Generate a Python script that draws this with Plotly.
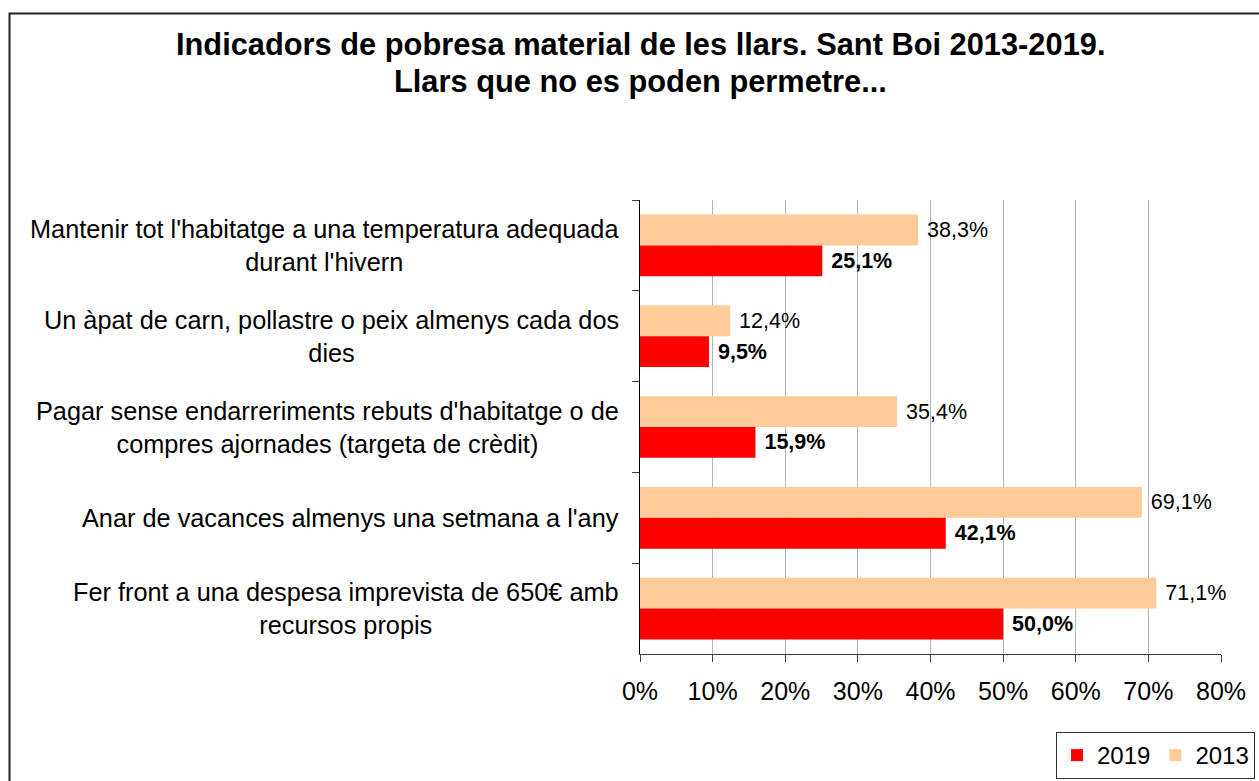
import plotly.graph_objects as go

categories = [
    "Mantenir tot l'habitatge a una temperatura adequada<br>durant l'hivern",
    "Un àpat de carn, pollastre o peix almenys cada dos<br>dies",
    "Pagar sense endarreriments rebuts d'habitatge o de<br>compres ajornades (targeta de crèdit)",
    "Anar de vacances almenys una setmana a l'any",
    "Fer front a una despesa imprevista de 650€ amb<br>recursos propis",
]
values_2013 = [38.3, 12.4, 35.4, 69.1, 71.1]
values_2019 = [25.1, 9.5, 15.9, 42.1, 50.0]
x_ticks = [0, 10, 20, 30, 40, 50, 60, 70, 80]
x_tick_labels = ["0%", "10%", "20%", "30%", "40%", "50%", "60%", "70%", "80%"]
title_lines = [
    "Indicadors de pobresa material de les llars. Sant Boi 2013-2019.",
    "Llars que no es poden permetre...",
]

FONT = "Liberation Sans, Arial, sans-serif"
W, H = 1259, 781
ML, MR, MT, MB = 640, 38, 200, 127
PW, PH = W - ML - MR, H - MT - MB

def px_to_paper_y(py):
    return (H - MB - py) / PH

def px_to_paper_x(px):
    return (px - ML) / PW

def fmt(v):
    return " " + f"{v:.1f}".replace(".", ",") + "%"

fig = go.Figure()
fig.add_trace(go.Bar(
    y=categories, x=values_2013, orientation="h", name="2013",
    marker=dict(color="#FFCC99", line=dict(width=0)),
    text=[fmt(v) for v in values_2013], textposition="outside",
    textfont=dict(family=FONT, size=21.5, color="black"),
    constraintext="none", cliponaxis=False, legendrank=2,
))
fig.add_trace(go.Bar(
    y=categories, x=values_2019, orientation="h", name="2019",
    marker=dict(color="#FF0000", line=dict(width=0)),
    text=["<b>" + fmt(v) + "</b>" for v in values_2019], textposition="outside",
    textfont=dict(family=FONT, size=21.5, color="black"),
    constraintext="none", cliponaxis=False, legendrank=1,
))

annotations = []
for c in categories:
    annotations.append(dict(
        x=px_to_paper_x(621), xref="paper", y=c, yref="y",
        text=c, showarrow=False, xanchor="right", align="center",
        font=dict(family=FONT, size=25.3, color="black"),
    ))
for line, cy in zip(title_lines, [45, 82]):
    annotations.append(dict(
        x=0, xref="paper", y=px_to_paper_y(cy), yref="paper",
        text="<b>" + line + "</b>", showarrow=False,
        xanchor="center", yanchor="middle",
        font=dict(family=FONT, size=30.8, color="black"),
    ))

fig.update_layout(
    width=W, height=H,
    margin=dict(l=ML, r=MR, t=MT, b=MB, autoexpand=False),
    paper_bgcolor="white", plot_bgcolor="white",
    barmode="group", bargap=0.32, bargroupgap=0,
    xaxis=dict(
        range=[0, 80], tickvals=x_ticks, ticktext=x_tick_labels,
        showgrid=True, gridcolor="#B4B4B4", gridwidth=1,
        showline=True, linecolor="#404040", linewidth=1,
        ticks="outside", ticklen=7, tickcolor="#404040",
        tickfont=dict(family=FONT, size=25, color="black"),
        ticklabelstandoff=8,
        zeroline=False, fixedrange=True, automargin=False,
    ),
    yaxis=dict(
        autorange="reversed", showticklabels=False,
        showline=True, linecolor="black", linewidth=1,
        ticks="outside", tickson="boundaries", ticklen=7, tickcolor="#404040",
        showgrid=False, zeroline=False, automargin=False,
    ),
    legend=dict(
        orientation="h", xref="container", yref="container",
        x=1255 / W, xanchor="right",
        y=1 - 732 / H, yanchor="top",
        bordercolor="#333333", borderwidth=1, bgcolor="white",
        font=dict(family=FONT, size=24, color="black"),
        itemwidth=30, tracegroupgap=0,
    ),
    annotations=annotations,
    shapes=[dict(
        type="rect", xref="paper", yref="paper",
        x0=px_to_paper_x(9.5), x1=px_to_paper_x(W + 20),
        y0=px_to_paper_y(H + 20), y1=px_to_paper_y(13.5),
        line=dict(color="#222222", width=2), fillcolor="rgba(0,0,0,0)",
    )],
    showlegend=True,
)

fig.write_html(
    "out.html",
    config={"displayModeBar": False},
    post_script="document.body.style.margin='0';document.body.style.padding='0';",
)
